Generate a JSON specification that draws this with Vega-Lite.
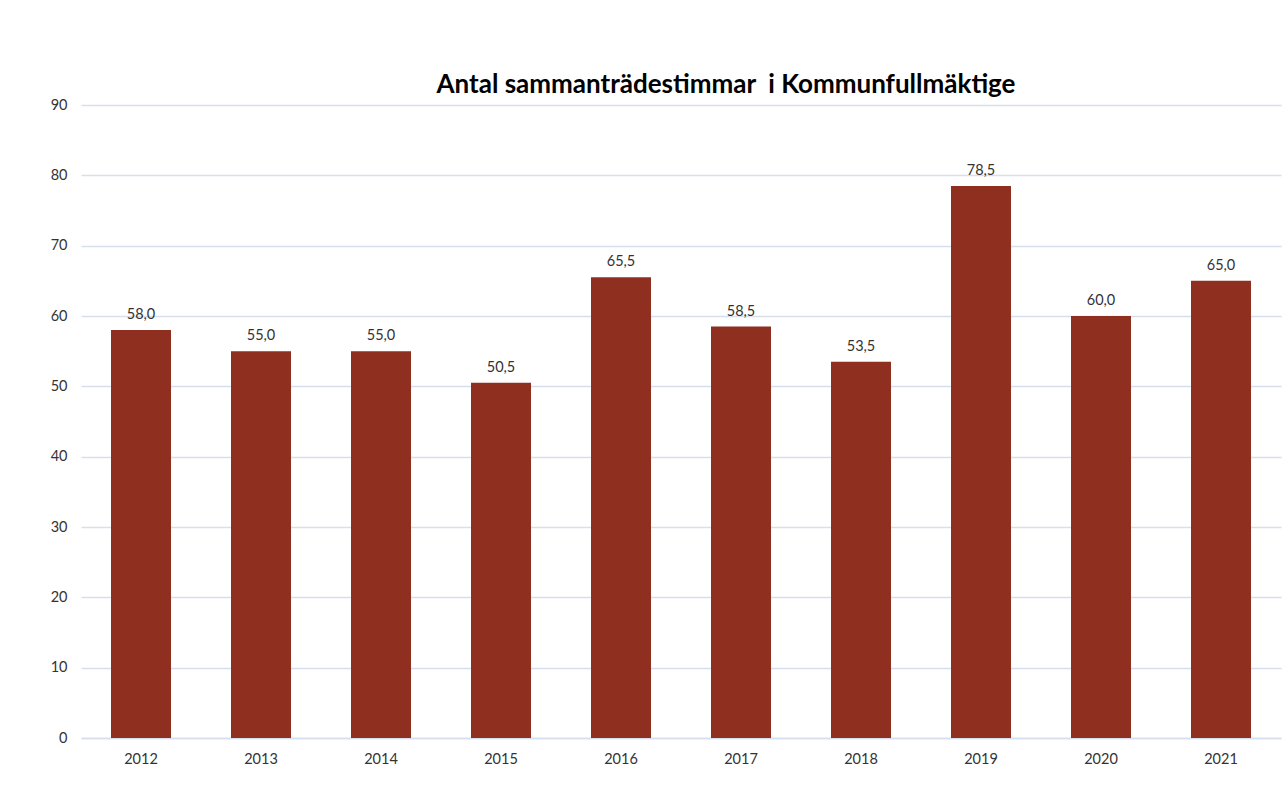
{
  "$schema": "https://vega.github.io/schema/vega-lite/v6.json",
  "width": 1200,
  "height": 633,
  "autosize": "none",
  "padding": {"left": 81, "top": 105, "right": 4, "bottom": 47},
  "background": "white",
  "config": {"view": {"stroke": null}, "font": "Lato"},
  "title": {
    "text": "Antal sammanträdestimmar \u00a0i Kommunfullmäktige",
    "font": "Lato",
    "fontSize": 26,
    "fontWeight": "bold",
    "color": "#000000",
    "anchor": "middle",
    "dx": 45,
    "offset": -1
  },
  "data": {
    "values": [
      {"year": "2012", "value": 58.0},
      {"year": "2013", "value": 55.0},
      {"year": "2014", "value": 55.0},
      {"year": "2015", "value": 50.5},
      {"year": "2016", "value": 65.5},
      {"year": "2017", "value": 58.5},
      {"year": "2018", "value": 53.5},
      {"year": "2019", "value": 78.5},
      {"year": "2020", "value": 60.0},
      {"year": "2021", "value": 65.0}
    ]
  },
  "encoding": {
    "x": {
      "field": "year",
      "type": "nominal",
      "sort": null,
      "title": null,
      "scale": {"paddingInner": 0.5, "paddingOuter": 0.25},
      "axis": {
        "labelAngle": 0,
        "labelFontSize": 14.5,
        "labelColor": "#333333",
        "labelPadding": 14,
        "ticks": false,
        "domain": true,
        "domainColor": "#D6DFEE",
        "domainWidth": 1.5
      }
    },
    "y": {
      "field": "value",
      "type": "quantitative",
      "title": null,
      "scale": {"domain": [0, 90], "nice": false},
      "axis": {
        "values": [0, 10, 20, 30, 40, 50, 60, 70, 80, 90],
        "labelFontSize": 14.5,
        "labelColor": "#333333",
        "labelPadding": 14,
        "ticks": false,
        "domain": false,
        "gridColor": "#D6DFEE",
        "gridWidth": 1.5
      }
    }
  },
  "layer": [
    {"mark": {"type": "bar", "color": "#8E2F1F"}},
    {
      "mark": {"type": "text", "baseline": "bottom", "dy": -8, "fontSize": 14.5, "color": "#333333"},
      "encoding": {"text": {"field": "value", "type": "quantitative", "format": ".1f"}}
    }
  ],
  "usermeta": {"embedOptions": {"formatLocale": {"decimal": ",", "thousands": " ", "grouping": [3], "currency": ["", " kr"]}}}
}
